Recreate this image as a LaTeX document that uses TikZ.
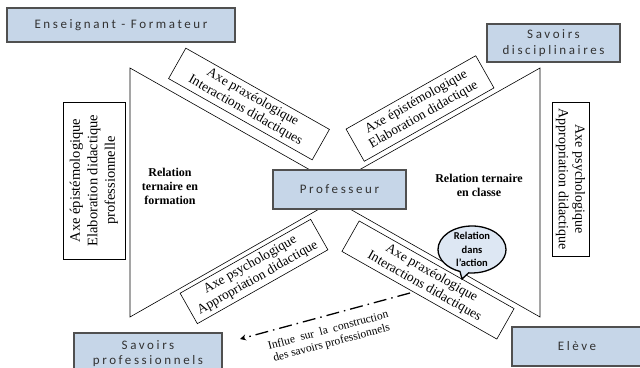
\documentclass[tikz,border=0pt]{standalone}
\usepackage{fontspec}
\setmainfont{Liberation Serif}
\newfontfamily\actorfont[LetterSpace=20]{Carlito}
\newfontfamily\bubblefont{Carlito}
\usetikzlibrary{shapes.callouts, arrows.meta, positioning}
\definecolor{actorblue}{RGB}{198, 214, 232}
\definecolor{actoredge}{RGB}{80, 80, 80}
\definecolor{actortext}{RGB}{50, 50, 50}
\definecolor{bubbleblue}{RGB}{221, 231, 243}

\tikzset{
  actor/.style={draw=actoredge, line width=2pt, fill=actorblue, inner sep=0pt, align=center, text=actortext, font=\actorfont\fontsize{13}{15.5}\selectfont},
  axebox/.style={draw, fill=white, line width=0.6pt, inner sep=0pt, align=center, font=\fontsize{13.5}{15}\selectfont},
  relation/.style={align=center, font=\bfseries\fontsize{12}{14}\selectfont},
  triangle/.style={draw, line width=0.6pt},
}

\begin{document}
\begin{tikzpicture}[x=1pt, y=-1pt]
  \useasboundingbox (0,0) rectangle (640,367);

  % Two triangles
  \draw[triangle] (130,68) -- (349,192) -- (130,317) -- cycle;
  \draw[triangle] (540,68) -- (320,192) -- (540,317) -- cycle;

  % Axes along the triangles
  \node[axebox, rotate=-29.5, minimum width=165, minimum height=35] (praxform) at (249,104) {Axe praxéologique\\Interactions didactiques};
  \node[axebox, rotate=29.5, minimum width=149, minimum height=37] (episclasse) at (420,108.5) {Axe épistémologique\\Elaboration didactique};
  \node[axebox, rotate=29.5, minimum width=150, minimum height=35] (psychform) at (254,271.5) {Axe psychologique\\Appropriation didactique};
  \node[axebox, rotate=-29.5, minimum width=178, minimum height=35] (praxclasse) at (428,280) {Axe praxéologique\\Interactions didactiques};
  \node[axebox, rotate=90, minimum width=157, minimum height=62, font=\fontsize{14.5}{17.5}\selectfont] (episform) at (94,180.5) {Axe épistémologique\\Elaboration didactique\\professionnelle};
  \node[axebox, rotate=-90, minimum width=154, minimum height=37, font=\fontsize{14}{16.5}\selectfont] (psychclasse) at (570.5,179) {Axe psychologique\\Appropriation didactique};

  % Relations
  \node[relation] (formation) at (170,186) {Relation\\ternaire en\\formation};
  \node[relation] (classe) at (479,185) {Relation ternaire\\en classe};

  % Bubble
  \node[ellipse callout, draw, line width=1.3pt, fill=bubbleblue, inner sep=0pt, minimum width=68, minimum height=47, callout absolute pointer={(462,279)}] (bubble) at (472,249.5) {};
  \node[align=center, font=\bubblefont\bfseries\fontsize{10.5}{13.5}\selectfont] (bubbletext) at (bubble.center) {Relation\\dans\\l’action};

  % Actors
  \node[actor, minimum width=228, minimum height=34] (formateur) at (121,25) {Enseignant - Formateur};
  \node[actor, minimum width=133, minimum height=38] (disciplinaires) at (553.5,43) {Savoirs\\disciplinaires};
  \node[actor, minimum width=133, minimum height=39] (professeur) at (339.5,189.5) {Professeur};
  \node[actor, minimum width=148, minimum height=41] (professionnels) at (148,353.5) {Savoirs\\professionnels};
  \node[actor, minimum width=130, minimum height=39] (eleve) at (577,346.5) {Elève};

  % Influence
  \coordinate (inflstart) at (410,293);
  \coordinate (inflend) at (240,339);
  \draw[line width=1.3pt, dash pattern=on 13pt off 5pt on 1.5pt off 5pt, -{Stealth[length=6pt, width=6pt]}] (inflstart) -- (inflend);
  \node[rotate=15, align=center, font=\fontsize{11.5}{13}\selectfont] (influe) at (330,337) {Influe\ \ sur\ \ la\ \ construction\\des savoirs professionnels};
\end{tikzpicture}
\end{document}
